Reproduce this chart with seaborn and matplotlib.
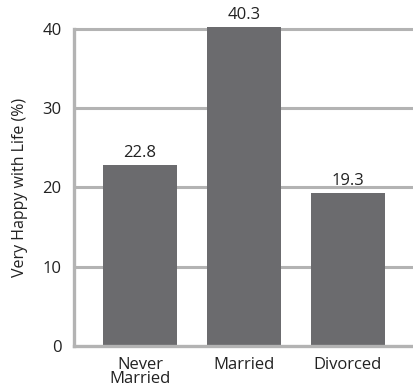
import matplotlib
matplotlib.use("Agg")
import matplotlib.pyplot as plt
import seaborn as sns
import pandas as pd

categories = ["Never\nMarried", "Married", "Divorced"]
values = [22.8, 40.3, 19.3]
yticks = [0, 10, 20, 30, 40]

sns.set_theme(style="white")
plt.rcParams["font.family"] = ["Open Sans", "DejaVu Sans"]

df = pd.DataFrame({"status": categories, "pct": values})

fig = plt.figure(figsize=(4.13, 3.91), dpi=100)
ax = fig.add_axes([0.179, 0.115, 0.821, 0.811])

grid_color = "#b3b3b3"
for y in yticks[1:]:
    ax.axhline(y, color=grid_color, lw=2.2, zorder=0, clip_on=False)

sns.barplot(data=df, x="status", y="pct", color="#6b6b6e", saturation=1,
            width=0.71, ax=ax, zorder=2)
for p in ax.patches:
    p.set_clip_on(False)
    p.set_edgecolor("none")

for i, v in enumerate(values):
    ax.text(i, v + 0.5, f"{v:.1f}", ha="center", va="bottom", fontsize=12,
            color="#222222")

ax.set_xlim(-0.635, 2.625)
ax.set_ylim(0, 40)
ax.set_yticks(yticks)
ax.set_xlabel("")
ax.set_ylabel("Very Happy with Life (%)", fontsize=11.5, color="#222222", labelpad=10)
ax.tick_params(axis="both", length=0, labelsize=12, colors="#222222")
ax.tick_params(axis="x", pad=8)
ax.tick_params(axis="y", pad=9)
for lbl in ax.get_xticklabels():
    lbl.set_linespacing(0.85)

for side in ["top", "right"]:
    ax.spines[side].set_visible(False)
for side in ["left", "bottom"]:
    ax.spines[side].set_color(grid_color)
    ax.spines[side].set_linewidth(2.4)
    ax.spines[side].set_capstyle("projecting")
    ax.spines[side].set_zorder(3)

fig.savefig("out.png", dpi=100)
